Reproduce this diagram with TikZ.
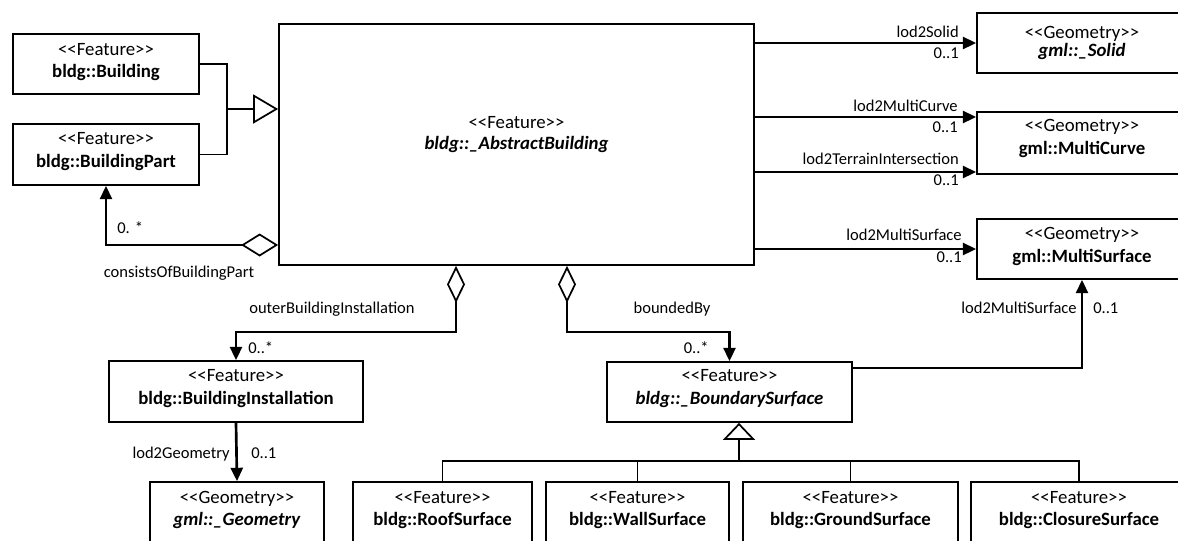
\documentclass[tikz,border=0pt]{standalone}
\usepackage{fontspec}
\setmainfont{Carlito}[Ligatures=TeXOff]
\usetikzlibrary{arrows.meta,calc}
\tikzset{
 boxst/.style={draw, line width=1.3pt, rectangle, inner sep=0pt, fill=white},
 stereo/.style={font=\fontsize{14.1}{16}\selectfont, anchor=base, inner sep=0pt},
 cname/.style={font=\fontsize{14.1}{16}\selectfont\bfseries, anchor=base, inner sep=0pt},
 lab/.style={font=\fontsize{12.4}{14}\selectfont, inner sep=0pt},
 assoc/.style={line width=2pt, -{Triangle[length=10pt,width=9pt]}},
 genl/.style={line width=1.3pt},
 compl/.style={line width=2pt, {Diamond[open, length=27.75pt, width=#1, line width=1.3pt]}-{Triangle[length=10pt,width=9pt]}},
}
% #1 name, #2 x1, #3 y1, #4 x2, #5 y2, #6 y stereotype, #7 y name, #8 stereotype, #9 class name
\newcommand{\umlbox}[9]{%
 \node[boxst, minimum width={(#4-#2)*0.75pt}, minimum height={(#5-#3)*0.75pt}] (#1) at ({(#2+#4)/2},{(#3+#5)/2}) {};
 \node[stereo] (#1-s) at ({(#2+#4)/2},{#6+6}) {#8};
 \node[cname] (#1-n) at ({(#2+#4)/2},{#7+6}) {#9};
}
\begin{document}
\begin{tikzpicture}[x=0.75pt,y=-0.75pt]
\useasboundingbox (0,0) rectangle (1178,540);
\fill[white] (0,0) rectangle (1178,540);
\clip (0,0) rectangle (1178,540);

\umlbox{bldg}{13}{34}{199}{94}{49}{71}{<<Feature>>}{bldg::Building}
\umlbox{part}{13}{124}{199}{185}{138}{161}{<<Feature>>}{bldg::BuildingPart}
\umlbox{main}{279}{24}{754}{265}{122}{143}{<<Feature>>}{\textit{bldg::\_AbstractBuilding}}
\umlbox{solid}{977}{13}{1187}{73}{32}{50}{<<Geometry>>}{\textit{gml::\_Solid}}
\umlbox{mcurve}{977}{112}{1187}{174}{125}{148}{<<Geometry>>}{gml::MultiCurve}
\umlbox{msurf}{977}{219}{1187}{279}{233}{256}{<<Geometry>>}{gml::MultiSurface}
\umlbox{inst}{109}{361}{363}{422}{375}{398}{<<Feature>>}{bldg::BuildingInstallation}
\umlbox{bsurf}{607}{362}{852}{422}{375}{398}{<<Feature>>}{\textit{bldg::\_BoundarySurface}}
\umlbox{geom}{150}{482}{324}{560}{497}{519}{<<Geometry>>}{\textit{gml::\_Geometry}}
\umlbox{roof}{353}{482}{532}{560}{497}{519}{<<Feature>>}{bldg::RoofSurface}
\umlbox{wall}{546}{482}{729}{560}{497}{519}{<<Feature>>}{bldg::WallSurface}
\umlbox{ground}{743}{482}{958}{560}{497}{519}{<<Feature>>}{bldg::GroundSurface}
\umlbox{closure}{971}{482}{1187}{560}{497}{519}{<<Feature>>}{bldg::ClosureSurface}

% generalization Building / BuildingPart -> AbstractBuilding
\coordinate (gj) at (227,109);
\draw[genl] (bldg.east) -| (gj);
\draw[genl] (part.east) -| (gj);
\draw[genl, -{Triangle[open, length=18.75pt, width=21.75pt, line width=1.3pt]}] (gj) -- (gj -| main.west);

% consistsOfBuildingPart
\draw[compl=17.25pt] (0,245 -| main.west) -| (part.south);
\node[lab, anchor=base west] (l1) at (117,233.5) {0. *};
\node[lab, anchor=base] (l2) at (179,277.5) {consistsOfBuildingPart};

% right associations
\draw[assoc] (main.east |- solid.west) -- (solid.west);
\draw[assoc] (main.east |- 0,117) -- (mcurve.west |- 0,117);
\draw[assoc] (main.east |- 0,172) -- (mcurve.west |- 0,172);
\draw[assoc] (main.east |- msurf.west) -- (msurf.west);
\node[lab, anchor=base east] (l3) at (959,37.5) {lod2Solid};
\node[lab, anchor=base east] (l4) at (959,58.5) {0..1};
\node[lab, anchor=base east] (l5) at (958,111.5) {lod2MultiCurve};
\node[lab, anchor=base east] (l6) at (958,132.5) {0..1};
\node[lab, anchor=base east] (l7) at (959,164.5) {lod2TerrainIntersection};
\node[lab, anchor=base east] (l8) at (959,185.5) {0..1};
\node[lab, anchor=base east] (l9) at (962,240.5) {lod2MultiSurface};
\node[lab, anchor=base east] (l10) at (962,262.5) {0..1};

% outerBuildingInstallation
\draw[compl=13.5pt] (456,0 |- main.south) -- (456,332) -| (inst.north);
\node[lab, anchor=base] (l11) at (332,313.5) {outerBuildingInstallation};
\node[lab, anchor=base west] (l12) at (248,353.5) {0..*};

% boundedBy
\draw[compl=13.5pt] (567,0 |- main.south) -- (567,332) -| (bsurf.north);
\node[lab, anchor=base] (l13) at (672,313.5) {boundedBy};
\node[lab, anchor=base east] (l14) at (709,353.5) {0..*};

% lod2Geometry
\draw[assoc] (inst.south) -- (geom.north);
\node[lab, anchor=base east] (l15) at (230,458.5) {lod2Geometry};
\node[lab, anchor=base west] (l16) at (251,458.5) {0..1};

% BoundarySurface lod2MultiSurface
\draw[assoc] (bsurf.north east |- 0,368) -| (msurf.south);
\node[lab, anchor=base east] (l17) at (1077,313.5) {lod2MultiSurface};
\node[lab, anchor=base west] (l18) at (1093,313.5) {0..1};

% generalization of boundary surfaces
\coordinate (bus) at (739,461);
\draw[genl, -{Triangle[open, length=12.75pt, width=24pt, line width=1.3pt]}] (bus) -- (bus |- bsurf.south);
\draw[genl] (roof.north) |- (bus);
\draw[genl] (wall.north) |- (bus);
\draw[genl] (ground.north) |- (bus);
\draw[genl] (closure.north) |- (bus);
\end{tikzpicture}
\end{document}
